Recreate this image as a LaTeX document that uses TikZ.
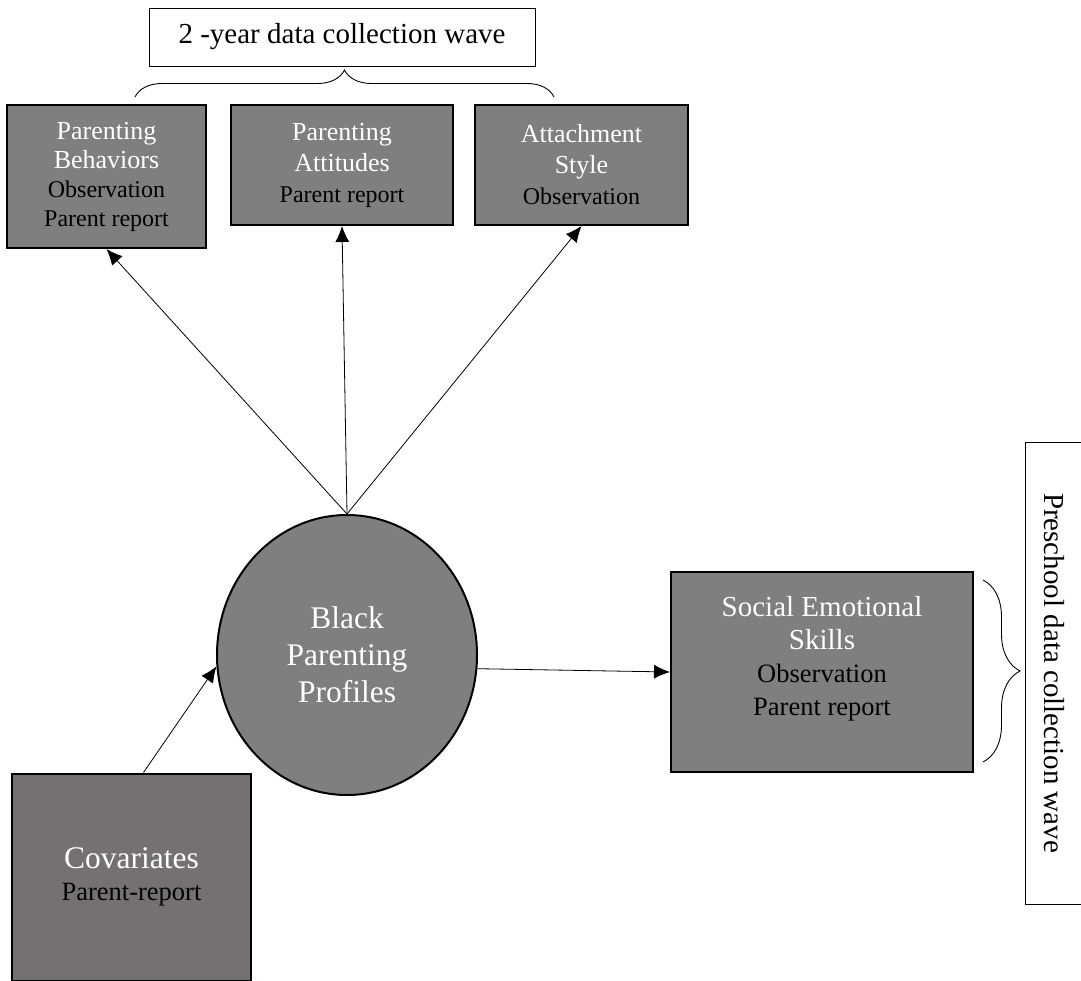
\documentclass[tikz,border=0pt]{standalone}
\usepackage{fontspec}
\setmainfont{Liberation Serif}
\usetikzlibrary{shapes, arrows.meta, positioning, decorations.pathreplacing}
\definecolor{boxgray}{RGB}{127,127,127}
\definecolor{covgray}{RGB}{118,113,113}
\newcommand{\hd}[2]{{\color{white}\fontsize{#1}{#1}\selectfont #2}}

\begin{document}
\begin{tikzpicture}[x=1pt, y=-1pt, >={Latex[length=16pt,width=14pt]}, line width=0.8pt,
  greybox/.style={draw, line width=2pt, fill=boxgray, align=center, inner sep=0pt},
  wavebox/.style={draw, line width=0.9pt, fill=white, inner sep=0pt, font=\fontsize{29}{33}\selectfont},
  wavebrace/.style={decorate, decoration={brace, amplitude=#1}, line width=0.9pt}]
\useasboundingbox (0,0) rectangle (1081,981);

\node[greybox, minimum width=222pt, minimum height=120pt, font=\fontsize{24}{31}\selectfont] (attit) at (342,165) {\hd{26}{Parenting}\\ \hd{26}{Attitudes}\\ Parent report};
\node[greybox, minimum width=199pt, minimum height=143pt, font=\fontsize{24}{29}\selectfont, left=23pt of attit.north west, anchor=north east] (behav) {\hd{26}{Parenting}\\ \hd{26}{Behaviors}\\ Observation\\ Parent report};
\node[greybox, minimum width=213pt, minimum height=120pt, font=\fontsize{24}{31}\selectfont, right=20pt of attit] (attach) {\hd{26}{Attachment}\\ \hd{26}{Style}\\ Observation};

\node[wavebox, minimum width=386pt, minimum height=58pt] (wave2) at (342,37) {2 -year data collection wave};
\coordinate (b2l) at (135,97);
\coordinate (b2r) at (554,97);
\draw[wavebrace=27pt] (b2l) -- (b2r);

\node[ellipse, draw, line width=2pt, fill=boxgray, minimum width=260pt, minimum height=280pt, align=center, text=white, font=\fontsize{31.5}{37}\selectfont] (bpp) at (347,655) {Black\\Parenting\\Profiles};

\node[greybox, fill=covgray, minimum width=239pt, minimum height=207pt, font=\fontsize{26.5}{32}\selectfont] (cov) at (131.5,877) {\hd{31.5}{Covariates}\\ Parent-report};

\node[greybox, minimum width=302pt, minimum height=200pt, font=\fontsize{26.5}{33}\selectfont] (ses) at (822,672) {\hd{29}{Social Emotional}\\ \hd{29}{Skills}\\ Observation\\ Parent report\\ \mbox{}};

\node[wavebox, rotate=-90, minimum width=462pt, minimum height=58pt] (waveP) at (1054,673) {Preschool data collection wave};
\coordinate (bPt) at (983,580);
\coordinate (bPb) at (983,762);
\draw[wavebrace=37pt] (bPt) -- (bPb);

\draw[->] (bpp.north) -- (behav.south);
\draw[->] (bpp.north) -- (attit.south);
\draw[->] (bpp.north) -- (attach.south);
\draw[->] ([xshift=12pt]cov.north) -- (bpp.185);
\draw[->] (bpp.-6) -- (ses.west);
\end{tikzpicture}
\end{document}
